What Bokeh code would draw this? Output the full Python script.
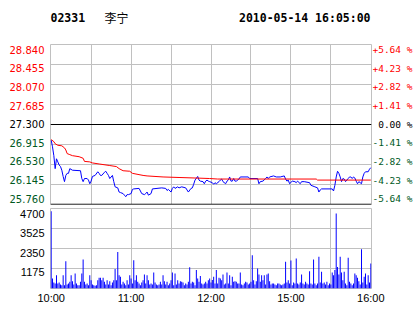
from bokeh.plotting import figure
from bokeh.layouts import column, row
from bokeh.models import ColumnDataSource, FixedTicker, Span, Range1d, Spacer
from bokeh.core.properties import value
from bokeh.embed import file_html
from bokeh.resources import INLINE

# ---------------- data ----------------
stock_code = "02331"
stock_name = "李宁"
stamp = "2010-05-14 16:05:00"
prev_close = 27.300
price_ticks = [25.760, 26.145, 26.530, 26.915, 27.300, 27.685, 28.070, 28.455, 28.840]
pct_labels = ["-5.64 %", "-4.23 %", "-2.82 %", "-1.41 %", "0.00 %",
              "+1.41 %", "+2.82 %", "+4.23 %", "+5.64 %"]
vol_ticks = [1175, 2350, 3525, 4700]
time_ticks = [0, 60, 120, 180, 240]
time_labels = ["10:00", "11:00", "12:00", "15:00", "16:00"]
grid_minutes = [30, 60, 90, 120, 150, 180, 210]

# minutes after 10:00 (trading minutes, lunch removed) and price
price_t = [0, 1, 2, 3, 4, 5, 6, 7, 8, 9, 10, 11, 12, 13, 14, 16, 22, 23, 24, 25,
           27, 28, 29, 30, 31, 33, 35, 36, 37, 38, 40, 41, 42, 43, 44, 46, 47, 48, 50, 51,
           52, 54, 55, 56, 57, 58, 60, 61, 62, 66, 67, 68, 70, 71, 72, 73, 75, 76, 83, 86,
           87, 88, 90, 91, 92, 93, 95, 96, 98, 101, 102, 103, 105, 106, 107, 108, 110, 111, 112, 114,
           115, 116, 117, 118, 119, 121, 122, 123, 124, 126, 127, 128, 129, 131, 132, 133, 134, 135, 136, 137,
           138, 139, 141, 142, 148, 149, 155, 156, 157, 159, 161, 162, 163, 164, 167, 169, 172, 175, 176, 177,
           178, 179, 181, 183, 184, 185, 187, 188, 190, 194, 195, 198, 200, 201, 202, 203, 211, 212, 213, 214,
           215, 216, 217, 218, 219, 220, 221, 223, 224, 225, 226, 227, 228, 229, 230, 231, 233, 234, 235, 236,
           238, 239, 240]
price_v = [27.00, 26.87, 26.70, 26.45, 26.64, 26.58, 26.52, 26.49, 26.42, 26.30, 26.20, 26.32, 26.36, 26.36, 26.45, 26.42, 26.41, 26.26, 26.20, 26.26,
           26.26, 26.23, 26.16, 26.21, 26.30, 26.32, 26.39, 26.36, 26.32, 26.32, 26.38, 26.40, 26.36, 26.32, 26.26, 26.32, 26.20, 26.10, 26.08, 26.00,
           25.99, 25.97, 25.94, 25.91, 25.95, 25.95, 25.97, 26.05, 26.06, 26.07, 26.02, 25.97, 25.95, 25.97, 26.00, 25.94, 25.97, 26.06, 26.08, 26.07,
           26.03, 26.05, 26.00, 26.07, 26.10, 26.07, 26.10, 26.08, 26.10, 26.08, 26.04, 26.00, 26.07, 26.08, 26.15, 26.23, 26.30, 26.23, 26.21, 26.20,
           26.16, 26.21, 26.23, 26.21, 26.20, 26.18, 26.15, 26.18, 26.16, 26.20, 26.23, 26.25, 26.20, 26.16, 26.21, 26.23, 26.29, 26.21, 26.21, 26.26,
           26.21, 26.21, 26.25, 26.29, 26.29, 26.26, 26.26, 26.16, 26.20, 26.21, 26.26, 26.29, 26.26, 26.29, 26.31, 26.29, 26.29, 26.31, 26.25, 26.21,
           26.23, 26.16, 26.21, 26.20, 26.18, 26.21, 26.16, 26.20, 26.20, 26.18, 26.13, 26.10, 26.08, 26.00, 26.04, 26.06, 26.06, 26.02, 26.13, 26.29,
           26.40, 26.36, 26.29, 26.20, 26.26, 26.25, 26.20, 26.26, 26.29, 26.29, 26.26, 26.29, 26.27, 26.21, 26.16, 26.20, 26.16, 26.29, 26.36, 26.39,
           26.39, 26.44, 26.47]

avg_t = [0, 2, 3, 5, 8, 10, 11, 12, 14, 16, 21, 24, 25, 29, 31, 36, 44, 49, 51, 54,
         59, 61, 69, 72, 84, 96, 108, 119, 125, 199, 200, 240]
avg_v = [27.01, 26.97, 26.93, 26.90, 26.89, 26.85, 26.81, 26.74, 26.72, 26.70, 26.68, 26.65, 26.59, 26.58, 26.56, 26.54, 26.51, 26.49, 26.45, 26.41,
         26.40, 26.36, 26.32, 26.31, 26.29, 26.28, 26.27, 26.26, 26.25, 26.25, 26.23, 26.23]

volume = [4540, 590, 350, 290, 780, 290, 350, 235, 195, 780, 195, 1600, 235, 290, 390, 780, 430, 235, 880, 290, 195, 195, 390, 880, 1700, 390, 235, 290, 195, 780,
          490, 235, 195, 155, 195, 490, 630, 630, 490, 630, 390, 235, 490, 235, 430, 195, 350, 490, 1140, 490, 2150, 780, 690, 235, 390, 290, 195, 490, 235, 780,
          590, 290, 1660, 490, 780, 390, 290, 195, 350, 490, 820, 290, 780, 490, 235, 290, 235, 940, 350, 235, 195, 235, 390, 235, 780, 430, 235, 390, 195, 290,
          490, 940, 195, 880, 235, 490, 290, 430, 390, 350, 195, 290, 235, 390, 1250, 290, 390, 350, 195, 1080, 590, 390, 740, 290, 235, 290, 390, 290, 490, 590,
          350, 500, 690, 290, 1080, 290, 630, 590, 490, 820, 235, 290, 940, 290, 780, 195, 690, 390, 430, 390, 290, 290, 940, 235, 195, 290, 390, 350, 235, 290,
          390, 1960, 490, 235, 430, 1175, 820, 390, 780, 490, 780, 235, 820, 880, 430, 235, 290, 290, 235, 195, 290, 290, 235, 195, 235, 290, 1570, 350, 490, 290,
          1645, 195, 350, 290, 1760, 290, 235, 350, 820, 290, 235, 390, 290, 235, 1020, 290, 235, 1700, 290, 195, 290, 1860, 350, 980, 290, 350, 235, 390, 195, 290,
          235, 940, 780, 1080, 4405, 1270, 820, 1860, 940, 490, 980, 290, 195, 1800, 390, 290, 195, 290, 880, 780, 630, 430, 235, 2310, 350, 690, 880, 235, 780, 350, 1470]
vol_t = list(range(len(volume)))

# ---------------- styling / layout ----------------
GRID = "#c0c0c0"
UP = "#ff0000"
DOWN = "#00591e"
FLAT = "#000000"
x_lo, x_hi = -0.5, 240.5
FRAME_W = 321              # plot area width in px
LEFT_W, RIGHT_W = 50, 43   # label gutters
P_H, V_H = 160, 80         # plot area heights
PAD = 2                    # padding above/below each panel

def tone(v):
    if abs(v - prev_close) < 1e-9:
        return FLAT
    return UP if v > prev_close else DOWN

def blank(w, h, xr, yr):
    f = figure(width=w, height=h, x_range=xr, y_range=yr, output_backend="svg",
               toolbar_location=None, x_axis_location=None, y_axis_location=None,
               min_border=0)
    f.grid.visible = False
    f.outline_line_color = None
    f.border_fill_color = "white"
    f.background_fill_color = "white"
    return f

p_lo, p_hi = price_ticks[0], price_ticks[-1]
mpp = (x_hi - x_lo) / FRAME_W
wide_x = Range1d(x_lo - LEFT_W * mpp, x_hi + RIGHT_W * mpp)   # full-width minute scale

# ---------------- title ----------------
title_h = 44 - PAD
t = blank(414, title_h, wide_x, Range1d(0, title_h))
t.text(x=[x_lo], y=[title_h - 17], text=[stock_code], text_align="left", text_baseline="middle",
       text_font=value("DejaVu Sans Mono"), text_font_style="bold", text_font_size="11.5px",
       text_color="black")
t.text(x=[x_lo], y=[title_h - 17], text=[stock_name], x_offset=54, text_align="left",
       text_baseline="middle", text_font=value("Noto Sans CJK SC"), text_font_size="12px",
       text_color="black")
t.text(x=[x_hi], y=[title_h - 17], text=[stamp], x_offset=-1, text_align="right",
       text_baseline="middle", text_font=value("DejaVu Sans Mono"), text_font_style="bold",
       text_font_size="11.5px", text_color="black")

# ---------------- price panel ----------------
p = figure(width=FRAME_W + 2, height=P_H + 2 * PAD, x_range=Range1d(x_lo, x_hi),
           y_range=Range1d(p_lo, p_hi), output_backend="svg", toolbar_location=None,
           x_axis_location=None, y_axis_location=None,
           min_border_left=1, min_border_right=1, min_border_top=PAD, min_border_bottom=PAD)
p.xgrid.ticker = FixedTicker(ticks=grid_minutes)
p.ygrid.ticker = FixedTicker(ticks=price_ticks)
p.grid.grid_line_color = GRID
p.outline_line_color = GRID
p.border_fill_color = "white"
p.add_layout(Span(location=prev_close, dimension="width", line_color="black", line_width=1))
p.add_layout(Span(location=p_lo, dimension="width", line_color="black", line_width=1.5))
p.line(price_t, price_v, line_color="#0000ff", line_width=1)
p.line(avg_t, avg_v, line_color="#ff0000", line_width=1)

pad_p = PAD * (p_hi - p_lo) / P_H
n = len(price_ticks)
shift = [-3.9 + 0.9 * j for j in range(n)]   # labels drift from sitting above to hanging below
colors = [tone(v) for v in price_ticks]

lp = blank(LEFT_W - 1, P_H + 2 * PAD, Range1d(0, 1), Range1d(p_lo - pad_p, p_hi + pad_p))
lp.text(x="x", y="y", text="text", source=ColumnDataSource(dict(
            x=[1] * n, y=price_ticks, text=[f"{v:.3f}" for v in price_ticks],
            c=colors, s=shift)),
        text_color="c", y_offset="s", x_offset=-5, text_align="right", text_baseline="middle",
        text_font=value("DejaVu Sans"), text_font_size="10px")

rp = blank(RIGHT_W - 1, P_H + 2 * PAD, Range1d(0, 1), Range1d(p_lo - pad_p, p_hi + pad_p))
rp.text(x="x", y="y", text="text", source=ColumnDataSource(dict(
            x=[1] * n, y=price_ticks, text=pct_labels, c=colors, s=shift)),
        text_color="c", y_offset="s", x_offset=-2, text_align="right", text_baseline="middle",
        text_font=value("DejaVu Sans Mono"), text_font_size="9.5px")

# ---------------- volume panel ----------------
v_hi = vol_ticks[-1]
v = figure(width=FRAME_W + 2, height=V_H + 2 * PAD, x_range=p.x_range, y_range=Range1d(0, v_hi),
           output_backend="svg", toolbar_location=None, x_axis_location=None, y_axis_location=None,
           min_border_left=1, min_border_right=1, min_border_top=PAD, min_border_bottom=PAD)
v.vbar(x=vol_t, top=volume, width=0.75, fill_color="#0000ff", line_color=None)
v.xgrid.ticker = FixedTicker(ticks=grid_minutes)
v.ygrid.ticker = FixedTicker(ticks=vol_ticks)
v.grid.grid_line_color = GRID
v.outline_line_color = GRID
v.border_fill_color = "white"

pad_v = PAD * v_hi / V_H
lv = blank(LEFT_W - 1, V_H + 2 * PAD, Range1d(0, 1), Range1d(-pad_v, v_hi + pad_v))
lv.text(x=[1] * len(vol_ticks), y=vol_ticks, text=[str(k) for k in vol_ticks],
        y_offset=4, x_offset=-5, text_align="right", text_baseline="middle",
        text_color="black", text_font=value("Liberation Sans"), text_font_size="11px")
rv = Spacer(width=RIGHT_W - 1, height=V_H + 2 * PAD)

# ---------------- time labels ----------------
bottom_h = 314 - 44 - P_H - 2 * PAD - V_H - 2 * PAD + PAD
b = blank(414, bottom_h, wide_x, Range1d(0, bottom_h))
b.text(x=time_ticks, y=[bottom_h - 7.5] * len(time_ticks), text=time_labels,
       text_align="center", text_baseline="middle", text_color="black",
       text_font=value("Liberation Sans"), text_font_size="11px")

layout = column(t, row(lp, p, rp, spacing=0), row(lv, v, rv, spacing=0), b, spacing=0)
open("out.html", "w").write(file_html(layout, INLINE))
